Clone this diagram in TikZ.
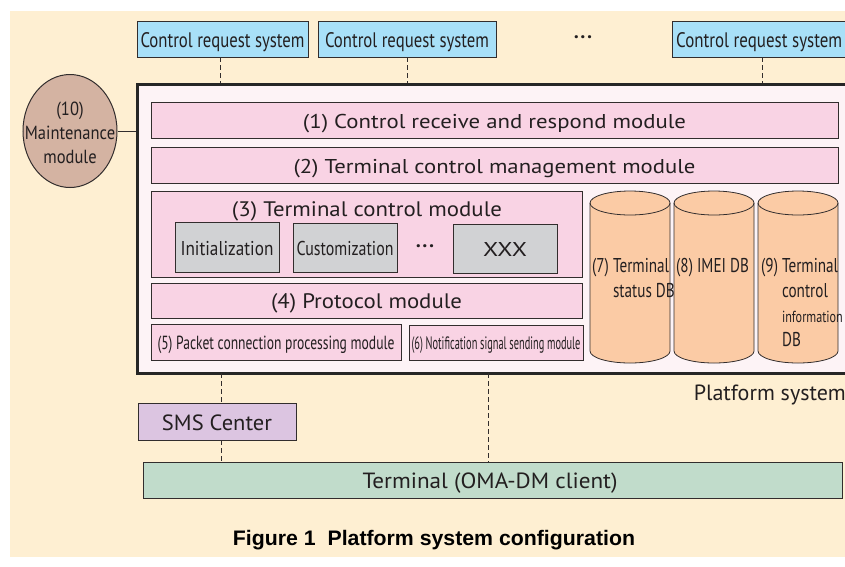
\documentclass[tikz,border=0pt]{standalone}
\usepackage{fontspec}
\usepackage{graphicx}
\setmainfont{PT Sans}
\newfontfamily\capf{Liberation Sans}
\usetikzlibrary{shapes.geometric}
\newcommand\fw[2]{\raisebox{0pt}[0.8em][0pt]{\resizebox{#1pt}{\height}{#2}}}
\newcommand\fs[1]{\fontsize{#1}{#1}\selectfont}
\newcommand\mydots{\textbf{·\hspace{1.5pt}·\hspace{1.5pt}·}}
\definecolor{cream}{RGB}{254,239,210}
\definecolor{crsblue}{RGB}{168,224,248}
\definecolor{framefill}{RGB}{253,243,246}
\definecolor{modpink}{RGB}{249,211,228}
\definecolor{boxgray}{RGB}{209,210,212}
\definecolor{peach}{RGB}{251,203,165}
\definecolor{maintc}{RGB}{212,179,162}
\definecolor{smsc}{RGB}{220,197,225}
\definecolor{termc}{RGB}{193,220,203}
\definecolor{edge}{RGB}{50,45,45}
\definecolor{txt}{RGB}{35,31,32}
\begin{document}
\begin{tikzpicture}[x=1pt,y=-1pt,
  box/.style={draw=edge,line width=0.9pt,inner sep=0pt,text=txt},
  mod/.style={box,fill=modpink},
  inner/.style={box,fill=boxgray},
  dashc/.style={draw=edge,line width=0.8pt,dash pattern=on 5pt off 3pt},
  cyl/.style={draw=edge,line width=0.8pt,fill=peach},
  plain/.style={inner sep=0pt,text=txt}
]
\useasboundingbox (0,0) rectangle (845,566);
\fill[white] (0,0) rectangle (845,566);
\fill[cream] (10,11) rectangle (845,557);

% control request systems
\node[box,fill=crsblue,minimum width=171,minimum height=36] (c1) at (222.5,39) {\fs{21}\fw{164}{Control request system}};
\node[box,fill=crsblue,minimum width=178,minimum height=36] (c2) at (407,39) {\fs{21}\fw{164}{Control request system}};
\node[plain] (cdots) at (583,40) {\fs{20}\mydots};
\node[box,fill=crsblue,minimum width=176,minimum height=36] (c3) at (760,39) {};
\node[plain,anchor=west] (c3t) at (676,39) {\fs{21}\fw{166}{Control request system}};

% platform frame
\node[draw=black!85,line width=3pt,fill=framefill,minimum width=711,minimum height=289,inner sep=0pt] (frame) at (492.5,228.5) {};

\draw[dashc] ([xshift=-2pt]c1.south) -- ([xshift=-2pt]c1.south |- frame.north);
\draw[dashc] (c2.south) -- (c2.south |- frame.north);
\draw[dashc] ([xshift=2pt]c3.south) -- ([xshift=2pt]c3.south |- frame.north);

% maintenance
\node[ellipse,draw=edge,line width=1pt,fill=maintc,minimum width=94,minimum height=113,inner sep=0pt] (maint) at (70,131) {};
\node[plain] (maintt) at (70,135)
  {\scalebox{0.87}[1]{\fontsize{19}{24}\selectfont\begin{tabular}{@{}c@{}}(10)\\Maintenance\\module\end{tabular}}};
\draw[edge,line width=1pt] (maint.east) -- (maint.east -| frame.west);

% modules
\node[mod,minimum width=687,minimum height=36] (m1) at (494.5,120) {\fs{20}\fw{383}{(1) Control receive and respond module}};
\node[mod,minimum width=687,minimum height=36] (m2) at (494.5,165) {\fs{20}\fw{402}{(2) Terminal control management module}};
\node[mod,minimum width=431,minimum height=86] (m3) at (366.5,234) {};
\node[plain] (m3t) at (367,208) {\fs{21}\fw{270}{(3) Terminal control module}};
\node[inner,minimum width=104,minimum height=50] (init) at (227,247) {\fs{20}\fw{93}{Initialization}};
\node[inner,minimum width=104,minimum height=49] (cust) at (345,247.5) {\fs{20}\fw{97}{Customization}};
\node[plain] (idots) at (425,249) {\fs{20}\mydots};
\node[inner,minimum width=104,minimum height=49] (xxx) at (505,248.5) {\fs{20}\fw{44}{XXX}};
\node[mod,minimum width=431,minimum height=35] (m4) at (366.5,300.5) {\fs{21}\fw{191}{(4) Protocol module}};
\node[mod,minimum width=250,minimum height=36] (m5) at (276,342) {\fs{19}\fw{237}{(5) Packet connection processing module}};
\node[mod,minimum width=174,minimum height=35] (m6) at (496,342.5) {\fs{18}\fw{169}{(6) Notification signal sending module}};

% cylinders
\foreach \L/\nm in {590/db7,674/db8,758/db9}{
  \pgfmathsetmacro\R{\L+80}
  \pgfmathsetmacro\C{\L+40}
  \draw[cyl] (\L,203) -- (\L,351) arc[start angle=180,end angle=0,x radius=40,y radius=12]
     -- (\R,203) arc[start angle=0,end angle=-180,x radius=40,y radius=12] -- cycle;
  \draw[edge,line width=0.8pt] (\L,203) arc[start angle=180,end angle=0,x radius=40,y radius=12];
  \coordinate (\nm) at (\C,277);
}
\node[plain,anchor=west] (t7) at (592,280) {\scalebox{0.76}[1]{\fontsize{20}{24.5}\selectfont\begin{tabular}{@{}l@{}}(7) Terminal\\\phantom{(7) }status DB\end{tabular}}};
\node[plain,anchor=west] (t8) at (676,268) {\scalebox{0.76}[1]{\fs{20}(8) IMEI DB}};
\node[plain,anchor=west] (t9) at (761,305) {\scalebox{0.76}[1]{\fontsize{20}{24.7}\selectfont\begin{tabular}{@{}l@{}}(9) Terminal\\\phantom{(9) }control\\\phantom{(9) }{\fs{16}information}\\\phantom{(9) }DB\end{tabular}}};

\node[plain,anchor=east] (plat) at (846,392) {\fs{22}\fw{152}{Platform system}};

% lower part
\node[box,fill=smsc,minimum width=158,minimum height=37] (sms) at (217,421.5) {\fs{22}\fw{110}{SMS Center}};
\node[box,fill=termc,minimum width=699,minimum height=36] (term) at (492.5,480) {};
\node[plain] (termt) at (490,480) {\fs{22}\fw{255}{Terminal (OMA-DM client)}};
\coordinate (d1) at (221,373);
\coordinate (d2) at (488,373);
\draw[dashc] (d1) -- (d1 |- sms.north);
\draw[dashc] (sms.south -| d1) -- (d1 |- term.north);
\draw[dashc] (d2) -- (d2 |- term.north);

\node[plain,text=black] (cap) at (434,537) {\capf\bfseries\fs{21}\fw{402}{Figure 1\ \ Platform system configuration}};
\end{tikzpicture}
\end{document}
